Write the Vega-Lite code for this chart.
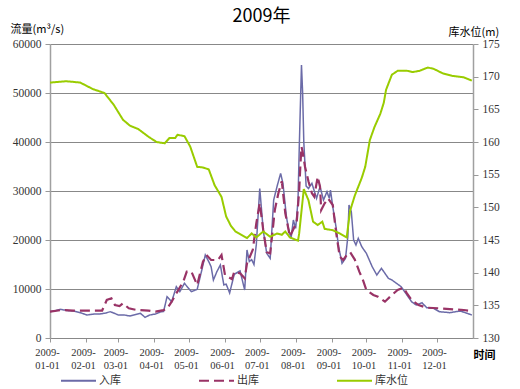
{
"$schema": "https://vega.github.io/schema/vega-lite/v6.json",
"width": 423, "height": 294,
"autosize": {"type": "none"},
"padding": {"left": 50, "top": 44, "right": 47, "bottom": 51},
"background": "white",
"title": {"text": "2009年", "font": "Noto Sans CJK SC", "fontSize": 18, "fontWeight": "normal", "color": "#000", "anchor": "middle", "frame": "group", "offset": 8, "dy": 11},
"config": {
  "view": {"stroke": null},
  "axis": {"labelFont": "Liberation Serif", "labelFontSize": 11.5, "labelColor": "#333", "titleFont": "Noto Sans CJK SC", "titleFontSize": 11, "titleFontWeight": "normal", "titleColor": "#000", "domainColor": "#999", "tickColor": "#999", "gridColor": "#888", "gridWidth": 1}
},
"data": {"values": [
{"d":"2009-01-01","s":"入库","v":5370},{"d":"2009-01-06","s":"入库","v":5600},{"d":"2009-01-10","s":"入库","v":5850},{"d":"2009-01-16","s":"入库","v":5600},{"d":"2009-01-21","s":"入库","v":5510},{"d":"2009-01-27","s":"入库","v":5170},{"d":"2009-02-02","s":"入库","v":4690},{"d":"2009-02-08","s":"入库","v":4900},{"d":"2009-02-13","s":"入库","v":4900},{"d":"2009-02-18","s":"入库","v":5100},{"d":"2009-02-22","s":"入库","v":5370},{"d":"2009-02-26","s":"入库","v":5000},{"d":"2009-03-01","s":"入库","v":4690},{"d":"2009-03-06","s":"入库","v":4700},{"d":"2009-03-11","s":"入库","v":4490},{"d":"2009-03-16","s":"入库","v":4800},{"d":"2009-03-20","s":"入库","v":5040},{"d":"2009-03-24","s":"入库","v":4220},{"d":"2009-03-28","s":"入库","v":4690},{"d":"2009-04-02","s":"入库","v":4900},{"d":"2009-04-07","s":"入库","v":5370},{"d":"2009-04-09","s":"入库","v":5400},{"d":"2009-04-12","s":"入库","v":8430},{"d":"2009-04-16","s":"入库","v":7410},{"d":"2009-04-20","s":"入库","v":10470},{"d":"2009-04-23","s":"入库","v":9450},{"d":"2009-04-27","s":"入库","v":11160},{"d":"2009-05-03","s":"入库","v":9450},{"d":"2009-05-08","s":"入库","v":9930},{"d":"2009-05-12","s":"入库","v":13880},{"d":"2009-05-15","s":"入库","v":16940},{"d":"2009-05-18","s":"入库","v":15580},{"d":"2009-05-20","s":"入库","v":14560},{"d":"2009-05-22","s":"入库","v":11840},{"d":"2009-05-25","s":"入库","v":13540},{"d":"2009-05-28","s":"入库","v":14900},{"d":"2009-05-31","s":"入库","v":10820},{"d":"2009-06-02","s":"入库","v":11000},{"d":"2009-06-05","s":"入库","v":9200},{"d":"2009-06-09","s":"入库","v":13000},{"d":"2009-06-14","s":"入库","v":13700},{"d":"2009-06-18","s":"入库","v":9800},{"d":"2009-06-20","s":"入库","v":17960},{"d":"2009-06-22","s":"入库","v":15600},{"d":"2009-06-24","s":"入库","v":16000},{"d":"2009-06-26","s":"入库","v":15000},{"d":"2009-06-28","s":"入库","v":19000},{"d":"2009-07-01","s":"入库","v":30500},{"d":"2009-07-04","s":"入库","v":22000},{"d":"2009-07-07","s":"入库","v":17280},{"d":"2009-07-10","s":"入库","v":16260},{"d":"2009-07-13","s":"入库","v":28160},{"d":"2009-07-16","s":"入库","v":31000},{"d":"2009-07-19","s":"入库","v":33600},{"d":"2009-07-21","s":"入库","v":31570},{"d":"2009-07-24","s":"入库","v":24750},{"d":"2009-07-26","s":"入库","v":22040},{"d":"2009-07-28","s":"入库","v":20340},{"d":"2009-07-30","s":"入库","v":24080},{"d":"2009-08-01","s":"入库","v":22380},{"d":"2009-08-03","s":"入库","v":28000},{"d":"2009-08-04","s":"入库","v":38000},{"d":"2009-08-05","s":"入库","v":47000},{"d":"2009-08-06","s":"入库","v":55700},{"d":"2009-08-07","s":"入库","v":50000},{"d":"2009-08-08","s":"入库","v":40000},{"d":"2009-08-10","s":"入库","v":31000},{"d":"2009-08-12","s":"入库","v":30500},{"d":"2009-08-15","s":"入库","v":31570},{"d":"2009-08-19","s":"入库","v":28500},{"d":"2009-08-22","s":"入库","v":30880},{"d":"2009-08-25","s":"入库","v":28160},{"d":"2009-08-28","s":"入库","v":29860},{"d":"2009-08-30","s":"入库","v":28500},{"d":"2009-08-31","s":"入库","v":30200},{"d":"2009-09-02","s":"入库","v":26800},{"d":"2009-09-05","s":"入库","v":22380},{"d":"2009-09-07","s":"入库","v":18630},{"d":"2009-09-10","s":"入库","v":15240},{"d":"2009-09-13","s":"入库","v":16260},{"d":"2009-09-15","s":"入库","v":20680},{"d":"2009-09-16","s":"入库","v":27140},{"d":"2009-09-18","s":"入库","v":25780},{"d":"2009-09-20","s":"入库","v":20000},{"d":"2009-09-22","s":"入库","v":18980},{"d":"2009-09-24","s":"入库","v":20340},{"d":"2009-09-27","s":"入库","v":18630},{"d":"2009-10-01","s":"入库","v":17280},{"d":"2009-10-06","s":"入库","v":14560},{"d":"2009-10-10","s":"入库","v":12860},{"d":"2009-10-14","s":"入库","v":14220},{"d":"2009-10-20","s":"入库","v":12180},{"d":"2009-10-23","s":"入库","v":11840},{"d":"2009-10-27","s":"入库","v":11160},{"d":"2009-10-31","s":"入库","v":10470},{"d":"2009-11-05","s":"入库","v":8780},{"d":"2009-11-09","s":"入库","v":7410},{"d":"2009-11-13","s":"入库","v":6730},{"d":"2009-11-18","s":"入库","v":7200},{"d":"2009-11-22","s":"入库","v":6190},{"d":"2009-11-28","s":"入库","v":6060},{"d":"2009-12-03","s":"入库","v":5370},{"d":"2009-12-12","s":"入库","v":5170},{"d":"2009-12-21","s":"入库","v":5510},{"d":"2009-12-27","s":"入库","v":5040},{"d":"2009-12-31","s":"入库","v":4690},
{"d":"2009-01-01","s":"出库","v":5400},{"d":"2009-01-11","s":"出库","v":5700},{"d":"2009-01-21","s":"出库","v":5600},{"d":"2009-01-31","s":"出库","v":5600},{"d":"2009-02-10","s":"出库","v":5600},{"d":"2009-02-15","s":"出库","v":5600},{"d":"2009-02-19","s":"出库","v":7760},{"d":"2009-02-23","s":"出库","v":8100},{"d":"2009-02-26","s":"出库","v":6730},{"d":"2009-03-02","s":"出库","v":6500},{"d":"2009-03-05","s":"出库","v":7080},{"d":"2009-03-10","s":"出库","v":6060},{"d":"2009-03-17","s":"出库","v":5710},{"d":"2009-03-27","s":"出库","v":5600},{"d":"2009-04-02","s":"出库","v":5370},{"d":"2009-04-09","s":"出库","v":5700},{"d":"2009-04-12","s":"出库","v":6000},{"d":"2009-04-16","s":"出库","v":7410},{"d":"2009-04-20","s":"出库","v":9120},{"d":"2009-04-26","s":"出库","v":11500},{"d":"2009-04-29","s":"出库","v":13540},{"d":"2009-05-03","s":"出库","v":13540},{"d":"2009-05-08","s":"出库","v":10820},{"d":"2009-05-13","s":"出库","v":15580},{"d":"2009-05-16","s":"出库","v":16940},{"d":"2009-05-20","s":"出库","v":15920},{"d":"2009-05-26","s":"出库","v":15920},{"d":"2009-05-29","s":"出库","v":16940},{"d":"2009-06-01","s":"出库","v":12860},{"d":"2009-06-07","s":"出库","v":12000},{"d":"2009-06-09","s":"出库","v":13540},{"d":"2009-06-14","s":"出库","v":13200},{"d":"2009-06-18","s":"出库","v":12180},{"d":"2009-06-20","s":"出库","v":15240},{"d":"2009-06-25","s":"出库","v":18000},{"d":"2009-06-28","s":"出库","v":23400},{"d":"2009-07-01","s":"出库","v":27500},{"d":"2009-07-04","s":"出库","v":22040},{"d":"2009-07-07","s":"出库","v":17500},{"d":"2009-07-10","s":"出库","v":17280},{"d":"2009-07-14","s":"出库","v":26120},{"d":"2009-07-17","s":"出库","v":29500},{"d":"2009-07-20","s":"出库","v":32000},{"d":"2009-07-23","s":"出库","v":25500},{"d":"2009-07-27","s":"出库","v":20700},{"d":"2009-07-31","s":"出库","v":22700},{"d":"2009-08-02","s":"出库","v":24000},{"d":"2009-08-04","s":"出库","v":30000},{"d":"2009-08-05","s":"出库","v":35000},{"d":"2009-08-06","s":"出库","v":39040},{"d":"2009-08-07","s":"出库","v":38000},{"d":"2009-08-09","s":"出库","v":35000},{"d":"2009-08-12","s":"出库","v":32000},{"d":"2009-08-15","s":"出库","v":29530},{"d":"2009-08-17","s":"出库","v":28840},{"d":"2009-08-20","s":"出库","v":32920},{"d":"2009-08-22","s":"出库","v":30880},{"d":"2009-08-23","s":"出库","v":26120},{"d":"2009-08-26","s":"出库","v":27490},{"d":"2009-08-29","s":"出库","v":28500},{"d":"2009-09-02","s":"出库","v":27140},{"d":"2009-09-05","s":"出库","v":21360},{"d":"2009-09-08","s":"出库","v":16600},{"d":"2009-09-11","s":"出库","v":15920},{"d":"2009-09-14","s":"出库","v":16940},{"d":"2009-09-17","s":"出库","v":17500},{"d":"2009-09-21","s":"出库","v":16000},{"d":"2009-09-25","s":"出库","v":13500},{"d":"2009-09-28","s":"出库","v":11840},{"d":"2009-10-01","s":"出库","v":9800},{"d":"2009-10-07","s":"出库","v":8780},{"d":"2009-10-11","s":"出库","v":8430},{"d":"2009-10-17","s":"出库","v":7410},{"d":"2009-10-23","s":"出库","v":8780},{"d":"2009-10-28","s":"出库","v":9800},{"d":"2009-11-02","s":"出库","v":10270},{"d":"2009-11-05","s":"出库","v":9120},{"d":"2009-11-09","s":"出库","v":7760},{"d":"2009-11-15","s":"出库","v":6730},{"d":"2009-11-22","s":"出库","v":6190},{"d":"2009-12-03","s":"出库","v":6060},{"d":"2009-12-15","s":"出库","v":5850},{"d":"2009-12-24","s":"出库","v":5710},{"d":"2009-12-31","s":"出库","v":5510},
{"d":"2009-01-01","s":"库水位","v":169.1},{"d":"2009-01-15","s":"库水位","v":169.3},{"d":"2009-01-27","s":"库水位","v":169.1},{"d":"2009-02-07","s":"库水位","v":168.1},{"d":"2009-02-17","s":"库水位","v":167.5},{"d":"2009-02-25","s":"库水位","v":165.7},{"d":"2009-03-05","s":"库水位","v":163.4},{"d":"2009-03-11","s":"库水位","v":162.5},{"d":"2009-03-18","s":"库水位","v":162.0},{"d":"2009-03-27","s":"库水位","v":160.8},{"d":"2009-04-03","s":"库水位","v":160.0},{"d":"2009-04-10","s":"库水位","v":159.8},{"d":"2009-04-14","s":"库水位","v":160.6},{"d":"2009-04-19","s":"库水位","v":160.6},{"d":"2009-04-21","s":"库水位","v":161.1},{"d":"2009-04-27","s":"库水位","v":160.9},{"d":"2009-05-02","s":"库水位","v":159.3},{"d":"2009-05-08","s":"库水位","v":156.2},{"d":"2009-05-13","s":"库水位","v":156.1},{"d":"2009-05-18","s":"库水位","v":155.8},{"d":"2009-05-23","s":"库水位","v":153.4},{"d":"2009-05-29","s":"库水位","v":151.6},{"d":"2009-06-02","s":"库水位","v":148.6},{"d":"2009-06-06","s":"库水位","v":147.2},{"d":"2009-06-10","s":"库水位","v":146.3},{"d":"2009-06-13","s":"库水位","v":146.0},{"d":"2009-06-20","s":"库水位","v":145.3},{"d":"2009-06-24","s":"库水位","v":146.0},{"d":"2009-06-28","s":"库水位","v":145.4},{"d":"2009-07-04","s":"库水位","v":146.3},{"d":"2009-07-10","s":"库水位","v":145.5},{"d":"2009-07-16","s":"库水位","v":146.0},{"d":"2009-07-20","s":"库水位","v":145.8},{"d":"2009-07-23","s":"库水位","v":146.3},{"d":"2009-07-27","s":"库水位","v":145.4},{"d":"2009-08-03","s":"库水位","v":144.9},{"d":"2009-08-04","s":"库水位","v":146.0},{"d":"2009-08-08","s":"库水位","v":152.8},{"d":"2009-08-12","s":"库水位","v":151.1},{"d":"2009-08-16","s":"库水位","v":147.8},{"d":"2009-08-20","s":"库水位","v":147.3},{"d":"2009-08-24","s":"库水位","v":147.8},{"d":"2009-08-26","s":"库水位","v":146.7},{"d":"2009-09-02","s":"库水位","v":146.5},{"d":"2009-09-08","s":"库水位","v":146.0},{"d":"2009-09-14","s":"库水位","v":145.4},{"d":"2009-09-17","s":"库水位","v":149.5},{"d":"2009-09-21","s":"库水位","v":151.8},{"d":"2009-09-27","s":"库水位","v":154.5},{"d":"2009-09-30","s":"库水位","v":156.2},{"d":"2009-10-04","s":"库水位","v":160.3},{"d":"2009-10-08","s":"库水位","v":162.3},{"d":"2009-10-13","s":"库水位","v":164.3},{"d":"2009-10-16","s":"库水位","v":166.0},{"d":"2009-10-18","s":"库水位","v":168.0},{"d":"2009-10-23","s":"库水位","v":170.3},{"d":"2009-10-28","s":"库水位","v":170.9},{"d":"2009-11-05","s":"库水位","v":170.9},{"d":"2009-11-10","s":"库水位","v":170.7},{"d":"2009-11-16","s":"库水位","v":170.9},{"d":"2009-11-23","s":"库水位","v":171.4},{"d":"2009-11-28","s":"库水位","v":171.2},{"d":"2009-12-06","s":"库水位","v":170.5},{"d":"2009-12-15","s":"库水位","v":170.1},{"d":"2009-12-24","s":"库水位","v":169.9},{"d":"2009-12-31","s":"库水位","v":169.4}
]},
"encoding": {
  "x": {"field": "d", "type": "temporal",
    "scale": {"type": "utc", "domain": [1230768000000, 1262304000000]},
    "axis": {"values": [1230768000000,1233446400000,1235865600000,1238544000000,1241136000000,1243814400000,1246406400000,1249084800000,1251763200000,1254355200000,1257033600000,1259625600000],
      "labelExpr": "[utcFormat(datum.value, '%Y-'), utcFormat(datum.value, '%m-%d')]",
      "labelFontSize": 10.5, "labelLineHeight": 13, "labelPadding": 5, "labelOffset": -3, "labelFlush": false, "labelOverlap": false,
      "tickSize": 4, "grid": false, "domainColor": "#888",
      "title": "时间", "titleX": 423, "titleY": 17, "titleAlign": "left", "titleBaseline": "middle", "titleFontWeight": "bold"}},
  "color": {"field": "s", "type": "nominal",
    "scale": {"domain": ["入库", "出库", "库水位"], "range": ["#6B6BA8", "#993366", "#99CC00"]},
    "legend": {"title": null, "orient": "none", "legendX": 10, "legendY": 318, "direction": "horizontal", "symbolType": "stroke", "symbolSize": 1225, "symbolStrokeWidth": 2, "labelFont": "Noto Sans CJK SC", "labelFontSize": 11, "labelColor": "#333", "labelOffset": 2, "gridAlign": "all", "columnPadding": 63}},
  "strokeDash": {"field": "s", "type": "nominal",
    "scale": {"domain": ["入库", "出库", "库水位"], "range": [[1,0],[10,5],[1,0]]}}
},
"layer": [
  {"layer": [
    {"transform": [{"filter": {"field": "s", "equal": "入库"}}],
     "mark": {"type": "line", "strokeWidth": 1.5},
     "encoding": {"y": {"field": "v", "type": "quantitative", "scale": {"domain": [0, 60000]},
       "axis": {"values": [0,10000,20000,30000,40000,50000,60000], "format": "d", "grid": true, "tickSize": 5, "labelPadding": 4, "domainColor": "#A0A0A0", "domainWidth": 1.5,
         "title": "流量(m³/s)", "titleAngle": 0, "titleX": -40, "titleY": -15, "titleAlign": "left", "titleBaseline": "middle"}}}},
    {"transform": [{"filter": {"field": "s", "equal": "出库"}}],
     "mark": {"type": "line", "strokeWidth": 2.2},
     "encoding": {"y": {"field": "v", "type": "quantitative", "scale": {"domain": [0, 60000]},
       "axis": {"values": [0,10000,20000,30000,40000,50000,60000], "format": "d", "grid": true, "tickSize": 5, "labelPadding": 4, "domainColor": "#A0A0A0", "domainWidth": 1.5,
         "title": "流量(m³/s)", "titleAngle": 0, "titleX": -40, "titleY": -15, "titleAlign": "left", "titleBaseline": "middle"}}}}
  ]},
  {"transform": [{"filter": {"field": "s", "equal": "库水位"}}],
   "mark": {"type": "line", "strokeWidth": 2},
   "encoding": {"y": {"field": "v", "type": "quantitative", "scale": {"domain": [130, 175], "zero": false},
     "axis": {"orient": "right", "values": [130,135,140,145,150,155,160,165,170,175], "format": "d", "grid": false, "tickSize": 5, "labelPadding": 4, "domainColor": "#A0A0A0", "domainWidth": 1.5,
       "title": "库水位(m)", "titleAngle": 0, "titleX": -25, "titleY": -12, "titleAlign": "left", "titleBaseline": "middle"}}}}
],
"resolve": {"scale": {"y": "independent"}}
}
